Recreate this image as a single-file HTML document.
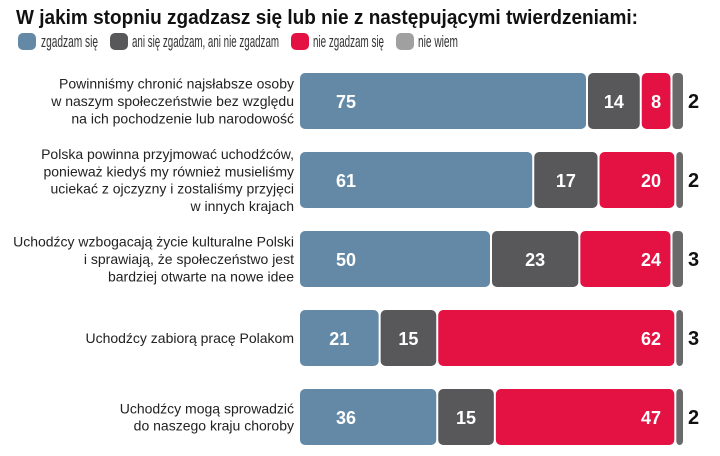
<!DOCTYPE html>
<html><head><meta charset="utf-8"><style>
html,body{margin:0;padding:0;background:#fff;}
svg{display:block;font-family:"Liberation Sans",sans-serif;}
.lbl{font-size:14px;fill:#222;text-anchor:end;}
.val{font-family:"Liberation Sans Narrow","Liberation Sans",sans-serif;font-weight:bold;font-size:18px;fill:#fff;text-anchor:middle;}
.out{font-family:"Liberation Sans Narrow","Liberation Sans",sans-serif;font-weight:bold;font-size:20px;fill:#111;}
</style></head><body>
<svg id="chart" width="720" height="456">
<text x="16" y="24" font-size="20" font-weight="bold" fill="#111" textLength="622" lengthAdjust="spacingAndGlyphs">W jakim stopniu zgadzasz się lub nie z następującymi twierdzeniami:</text>
<g>
<g><rect x="18" y="33" width="18" height="17" rx="5" fill="#6389a6"/><text x="41" y="47" font-size="16.5" fill="#333" textLength="57" lengthAdjust="spacingAndGlyphs">zgadzam się</text></g>
<g><rect x="110" y="33" width="18" height="17" rx="5" fill="#58585a"/><text x="132" y="47" font-size="16.5" fill="#333" textLength="147" lengthAdjust="spacingAndGlyphs">ani się zgadzam, ani nie zgadzam</text></g>
<g><rect x="291" y="33" width="18" height="17" rx="5" fill="#e31243"/><text x="313" y="47" font-size="16.5" fill="#333" textLength="71" lengthAdjust="spacingAndGlyphs">nie zgadzam się</text></g>
<g><rect x="396" y="33" width="18" height="17" rx="5" fill="#a0a0a0"/><text x="418" y="47" font-size="16.5" fill="#333" textLength="40" lengthAdjust="spacingAndGlyphs">nie wiem</text></g>
</g>
<g id="bars"></g>
</svg>
<script>
const categories = [
 ["Powinniśmy chronić najsłabsze osoby","w naszym społeczeństwie bez względu","na ich pochodzenie lub narodowość"],
 ["Polska powinna przyjmować uchodźców,","ponieważ kiedyś my również musieliśmy","uciekać z ojczyzny i zostaliśmy przyjęci","w innych krajach"],
 ["Uchodźcy wzbogacają życie kulturalne Polski","i sprawiają, że społeczeństwo jest","bardziej otwarte na nowe idee"],
 ["Uchodźcy zabiorą pracę Polakom"],
 ["Uchodźcy mogą sprowadzić","do naszego kraju choroby"]
];
const zgadzam = [75,61,50,21,36];
const ani = [14,17,23,15,15];
const nieZgadzam = [8,20,24,62,47];
const nieWiem = [2,2,3,3,2];

const NS="http://www.w3.org/2000/svg";
const g=document.getElementById('bars');
const x0=300, unit=3.84, top0=73, step=79, bh=56, xEnd=683;
const xs=v=>x0+v*unit;
const colors=["#6389a6","#58585a","#e31243","#6a6a6a"];
const names=["zgadzam","ani","nie-zgadzam","nie-wiem"];
function mk(t,a){const e=document.createElementNS(NS,t);for(const k in a)e.setAttribute(k,a[k]);return e;}
categories.forEach((lines,i)=>{
 const y=top0+i*step, cy=y+bh/2;
 const lh=17.3, n=lines.length;
 lines.forEach((ln,j)=>{
  const t=mk('text',{x:294,y:cy+(j-(n-1)/2)*lh+5,class:'lbl'});
  
  
  t.textContent=ln;g.appendChild(t);
 });
 const vals=[zgadzam[i],ani[i],nieZgadzam[i],nieWiem[i]];
 const nwStart=Math.min(xs(vals[0]+vals[1]+vals[2]), xEnd-5);
 let cum=0;
 vals.forEach((v,k)=>{
  let a=xs(cum), b=xs(cum+v)-2;
  if(k===2) b=nwStart-2;
  if(k===3){a=nwStart;b=xEnd;}
  const r=mk('rect',{x:a,y:y,width:b-a,height:bh,rx:k===3?4:5,fill:colors[k]});
  
  
  g.appendChild(r);
  let tx, cls='val';
  if(k===0) tx=Math.min((a+b)/2,346);
  else if(k===1) tx=(a+b)/2;
  else if(k===2) tx=Math.max((a+b)/2,651);
  else {tx=688;cls='out';}
  const t=mk('text',{x:tx,y:cy+7,class:cls});
  
  
  t.textContent=v;g.appendChild(t);
  cum+=v;
 });
});
</script>
</body></html>
